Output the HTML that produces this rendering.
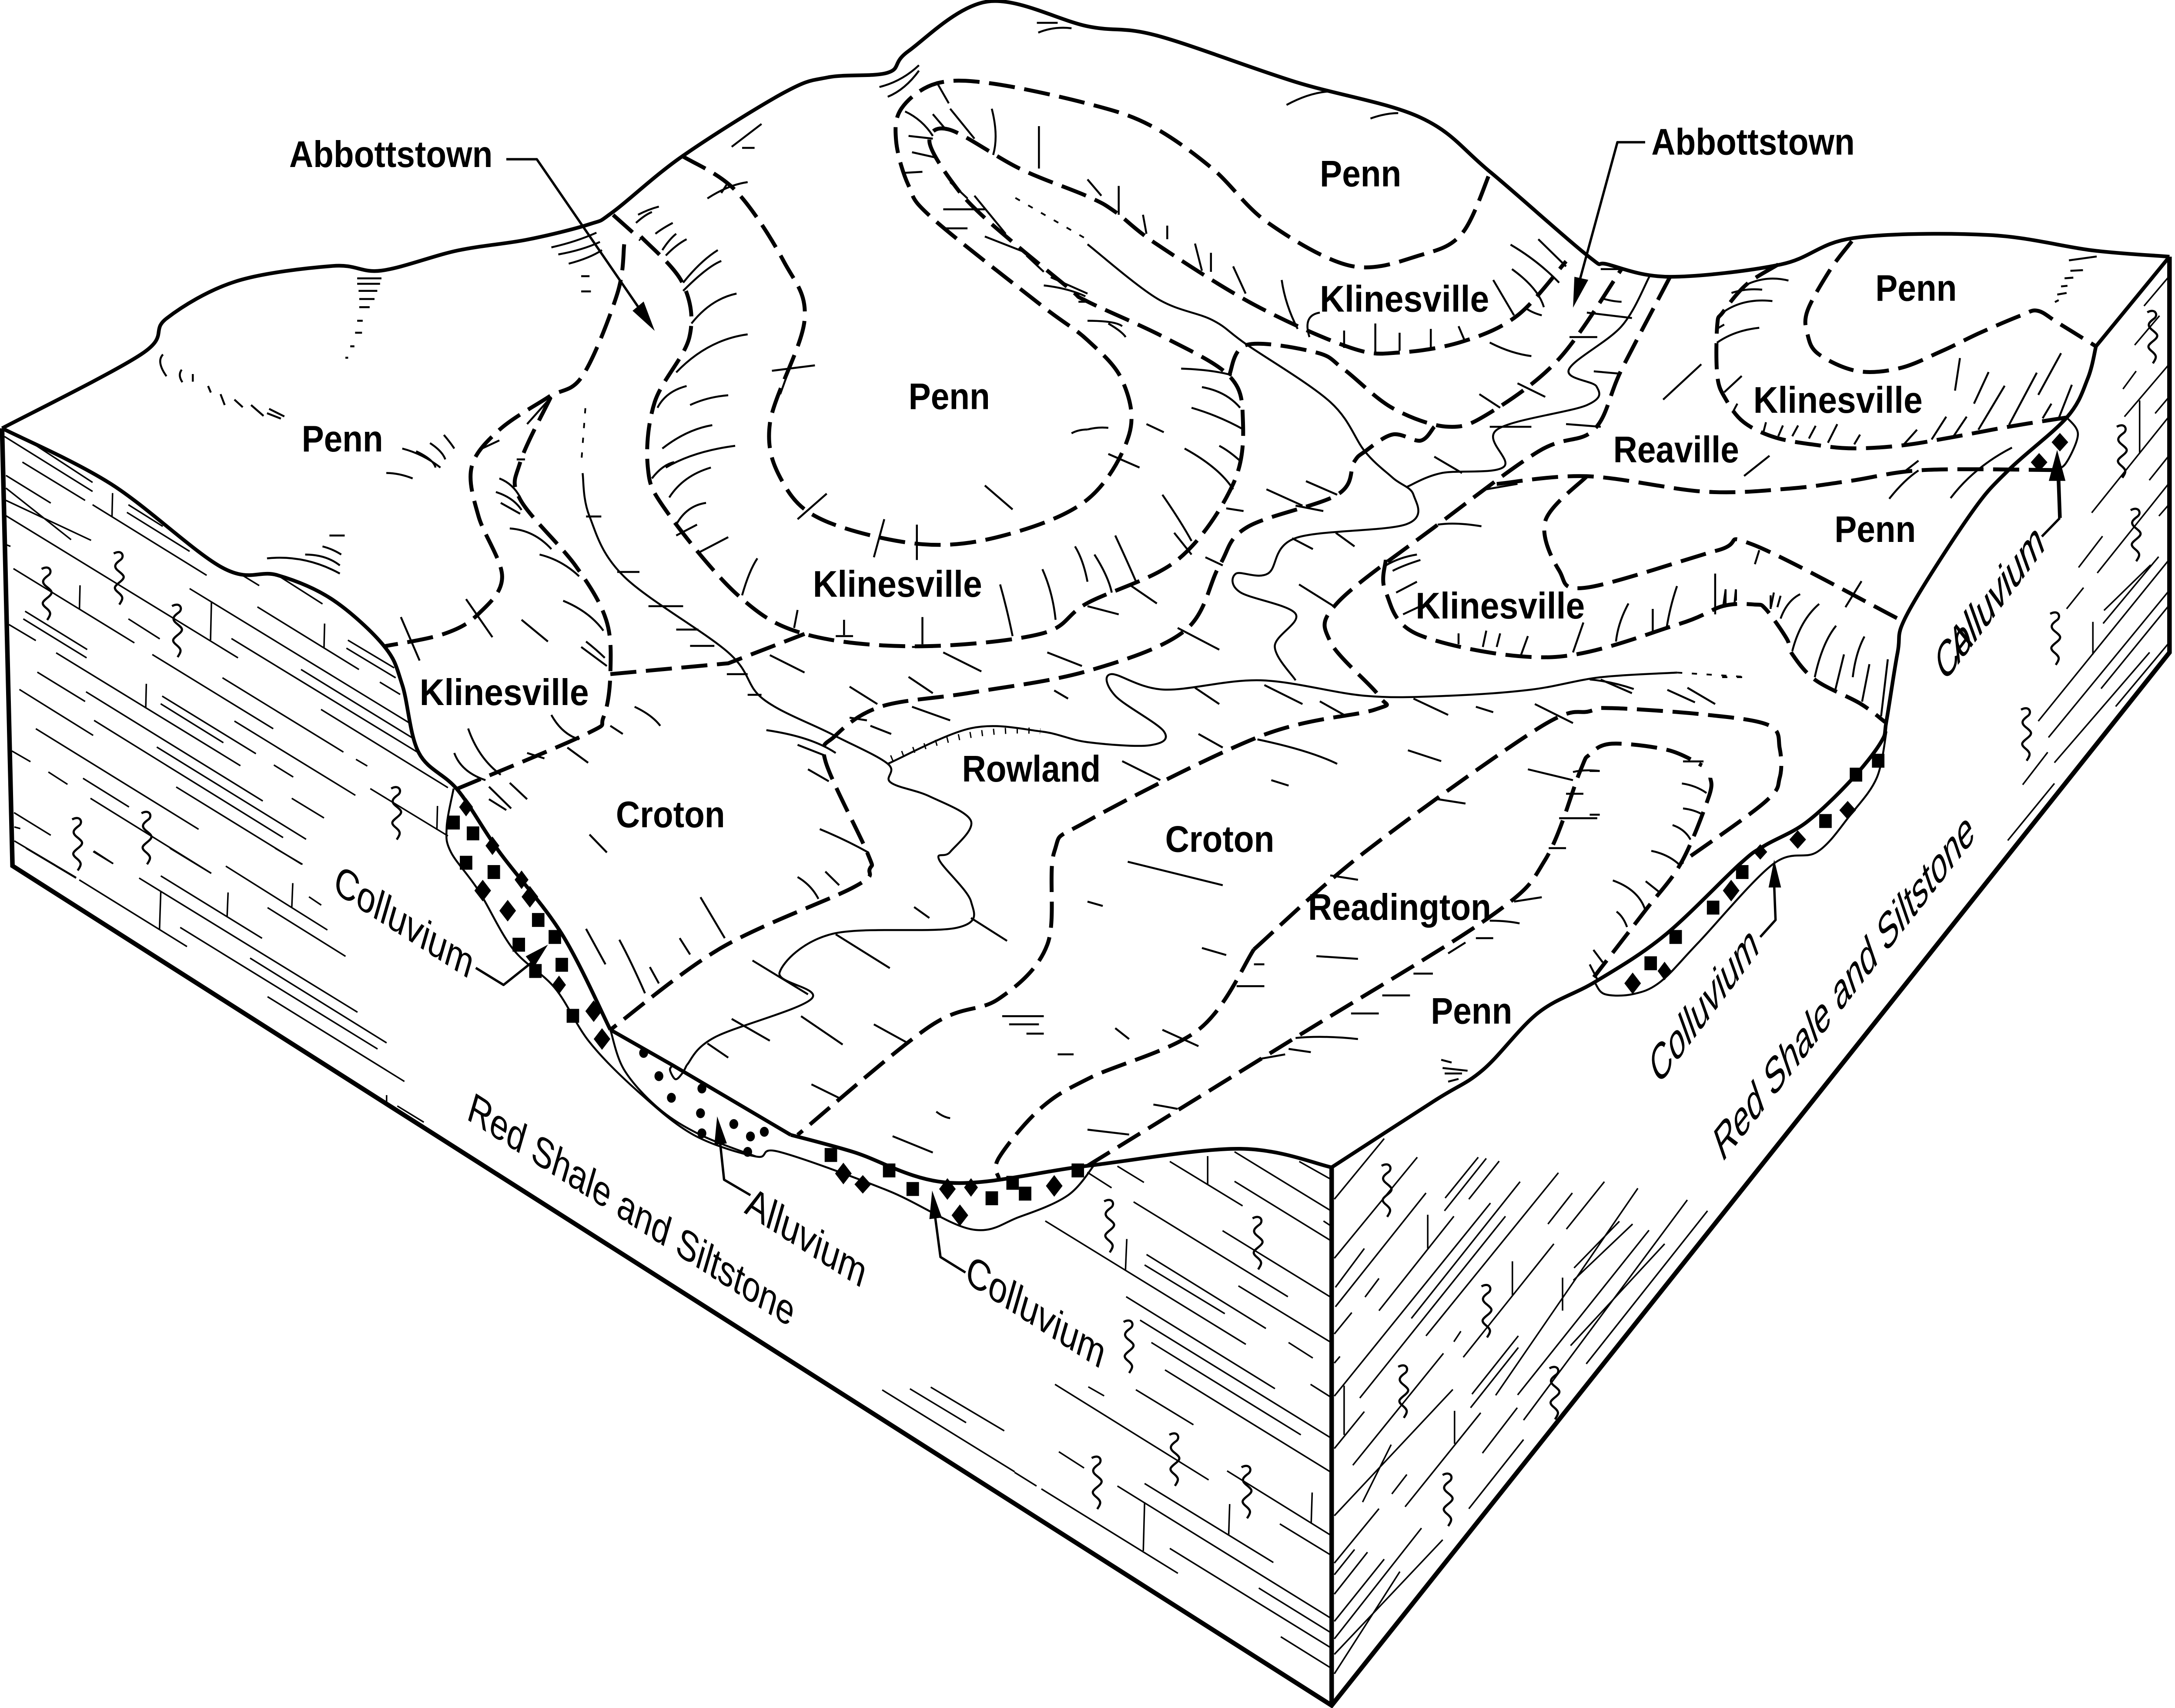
<!DOCTYPE html>
<html><head><meta charset="utf-8"><title>Block diagram</title>
<style>
html,body{margin:0;padding:0;background:#fff;width:100%;height:100%;overflow:hidden}
svg{display:block;position:absolute;left:0;top:0;width:100vw;height:100vh}
path{vector-effect:non-scaling-stroke;fill:none;stroke:#000;stroke-linecap:butt;stroke-linejoin:round}
.o{stroke-width:8.5}
.w{stroke-width:10.5;stroke-linejoin:miter}
.d{stroke-width:9;stroke-dasharray:60 22}
.r{stroke-width:4.5}
.k{stroke-width:4.5}
.l{stroke-width:3.5}
.a{stroke-width:5.5}
.h{stroke-width:14;stroke-dasharray:3 24}
.dot{stroke-width:4;stroke-dasharray:12 22}
.z{stroke-width:5}
polygon,rect,circle{fill:#000;stroke:none}
text{font-family:"Liberation Sans",sans-serif;font-size:24px;fill:#000}
.b{font-weight:700}
.n{font-size:26px}
</style></head><body>
<svg xmlns="http://www.w3.org/2000/svg" viewBox="0 0 5574 3927" preserveAspectRatio="none">
<defs><path id="q" class="z" d="M1 0C7-3 9 2 6 4S0 8 4 11S10 15 6 18S0 22 4 25S8 29 5 33"/></defs>

<!-- surface ticks crop 1 -->
<g transform="scale(1.7774,1.25)">
<path class="k" d="M515 512h35M515 522h33M517 535h27M518 550h22M518 565h15M515 590h8M512 612h10M505 637h6M498 658h4M795 455Q830 445 860 428M805 468Q840 460 865 445M820 485Q850 475 868 460M838 508h12M838 536h14M235 652Q225 665 240 692M262 680Q256 690 263 703M278 688v14M300 710l4 12M318 725l6 20M338 735l12 14M362 745l18 20M388 752l22 14M385 760l20 10M580 825Q610 835 635 860M600 830Q625 845 628 860M620 815Q638 830 642 845M640 800Q650 815 655 825M557 870Q575 870 595 880M385 1027Q440 1020 490 1055M440 1020Q470 1020 490 1040M465 1005Q480 1010 492 1020M475 985h22M1055 270L1098 228M1070 272h18M1495 42h30M1497 60Q1520 48 1545 52M1268 160Q1300 150 1325 120M1280 178Q1305 165 1325 130"/>
<path class="k" d="M920 395Q935 385 950 380M917 410Q930 395 940 390M945 430Q955 420 970 410M955 460Q965 440 975 430M960 470Q975 450 990 440M985 520Q1010 480 1035 460M985 535Q1020 490 1040 480M997 595Q1025 550 1062 540M975 685Q1020 625 1078 615M948 750Q960 720 990 710M995 745Q1020 730 1050 727M955 825Q990 790 1027 782M960 860Q1000 830 1060 820M940 880Q955 855 972 850M965 915Q985 875 1025 860M975 965Q990 930 1018 925M975 985L1005 965M1005 1018L1050 988M1070 1095Q1080 1050 1092 1027M1020 365Q1050 340 1078 335M1050 335L1040 355M1113 682L1175 672M1140 672L1125 725M1150 955L1192 908M1420 893L1460 937M1260 1025L1275 955M1322 1030V965M1545 797Q1555 790 1568 790M1145 1155L1150 1122M1217 1168V1140M1205 1170h25M1330 1185V1135M1315 1190h30M1460 1170Q1452 1120 1442 1075M1522 1140Q1518 1090 1503 1047M1568 1070Q1562 1030 1550 1005"/>
<path class="k" d="M695 825L720 810M720 880Q740 890 750 915M715 905Q740 915 752 938M722 925L750 945M735 972Q770 975 795 1010M778 1020Q810 1030 835 1060M812 1105Q850 1125 870 1160M845 1180Q860 1195 872 1210M838 1190L875 1225M672 1102L710 1172M752 1140L790 1180M578 1135L605 1215M795 1315Q810 1350 835 1360M675 1340Q690 1395 722 1425M655 1385Q665 1420 700 1435M760 1385L785 1395M705 1447L737 1487M760 780L795 730M745 845h12M845 950h22M890 1052h32M935 1115h50M975 1158h32M995 1188h35M1048 1240h30M1078 1278h20M1110 1205L1160 1237M1225 1263L1265 1295M1310 1245L1345 1275M1360 1200L1415 1235M1510 1200L1560 1225M1520 1270L1540 1285M1315 1300L1370 1325M1255 1335L1285 1350M1225 1320L1250 1325M915 1300Q940 1315 952 1335M880 1335L898 1350M818 1375L848 1403M1105 1343Q1170 1355 1205 1385M1150 1370L1190 1390M1165 1415L1195 1437M1182 1525Q1220 1545 1252 1568M850 1535L875 1568M705 1470L730 1490M735 1440L760 1470"/>
<path class="k" d="M1350 150L1368 190M1345 210L1365 240M1370 200L1405 255M1430 200Q1440 250 1432 285M1498 232V310M1305 205Q1330 220 1345 250M1310 250L1345 255M1315 280L1350 290M1303 318L1330 316M1370 335L1395 365M1360 385L1420 385M1405 360L1450 430M1360 420L1395 420M1420 435L1480 465M1480 470L1505 500M1505 525Q1540 530 1565 545M1515 510L1568 540M1555 555h13"/>
<path class="h" d="M1285 1395Q1400 1335 1500 1345"/>
</g>

<!-- surface ticks crop 2 -->
<g transform="translate(2787,0) scale(1.7774,1.25)">
<path class="k" d="M287 193Q320 170 350 168M408 218Q430 208 448 208M0 330L20 360M45 342V395M80 395L85 430M115 415V440M155 448L165 498M178 465V500M210 490L228 540M280 515Q285 560 303 605M335 575Q310 580 320 620M370 608V640M415 595V650M450 612V645M495 605V645M535 600L545 630M585 515L615 580M612 495Q650 530 658 565M610 450Q650 480 680 520M650 440L690 490M630 565Q640 575 655 580M740 495L770 495M745 550Q760 555 770 555M720 575L785 585M580 630Q610 650 640 655M695 620H735M730 683L765 687M620 705L660 730M565 725L595 750M690 780L740 785M580 785H640M500 840L540 870M0 790Q15 785 30 787M85 780L110 795M30 835L75 860M0 590Q40 590 50 600M30 595Q50 610 55 620M135 678Q180 680 208 690M165 712Q200 720 220 750M150 750Q190 765 225 790M190 820Q205 830 222 850M140 825Q190 860 210 900M108 910Q135 960 150 995M125 980L150 1020M40 985Q60 1040 70 1070M10 1020Q30 1060 35 1090M170 1025L195 1040M60 1075L100 1110M0 1115L45 1130M258 900L310 930M315 885L360 910M300 930L340 940M200 935L225 940M305 1075L355 1115M358 980L385 1005M295 990L325 1010M130 1155L190 1195M155 1265L190 1295M255 1260L310 1295M335 1290L370 1315M470 1285L520 1315M560 1300L585 1310M645 1295L700 1330M740 1250L785 1275M865 1265L905 1295M245 1360Q320 1380 360 1405M50 1400L105 1435M160 1350L195 1375M462 1380L510 1400M265 1435L290 1445M505 1470L545 1478M635 1415L700 1435M690 1460h25M700 1420Q715 1415 738 1418M680 1505h55M665 1560h25"/>
<path class="k" d="M830 735L885 670M430 1040Q450 1025 475 1020M440 1050Q455 1040 480 1030M445 1090L475 1070M455 1130L480 1115M505 965Q530 960 568 968M575 900L620 890M535 1165V1185M575 1160L570 1190M595 1165L590 1190M635 1170L625 1205M715 1145L700 1200M780 1110Q765 1145 762 1180M815 1120V1165M850 1078Q840 1115 835 1155M905 1055V1130M920 1085V1110M935 1085V1105M985 1095V1120"/>
</g>

<!-- surface ticks crop 3 -->
<g transform="translate(0,1960) scale(1.7774,1.2545)">
<path class="k" d="M1318 100L1340 120M1400 120L1452 162M1205 150L1283 212M1085 198L1165 260M1055 305L1110 345M1260 315L1310 350M1155 300L1215 352M1020 350L1050 376M1170 425L1210 450M1350 475Q1360 485 1370 487M1287 520L1345 550M1445 300H1505M1455 315H1498M1480 332H1505M1525 370H1548M1150 45Q1170 60 1180 85M1190 35L1210 60M1010 82L1045 157M845 140L873 205M893 160Q910 200 930 258M980 157L995 187M937 210L950 240"/>
<path class="l" d="M1272 985L1463 1135M1312 983L1393 1045M1342 980L1448 1060"/>
</g>

<!-- surface ticks crop 4 -->
<g transform="translate(2787,1960) scale(1.7774,1.2545)">
<path class="k" d="M58 17L195 60M0 90L22 98M350 42L390 50M615 90L655 82M580 125Q605 125 623 130M560 157L585 157M520 185L545 165M165 175L200 188M330 190L390 195M240 205H255M215 245H255M470 222H498M425 262H465M380 295H420M300 340Q340 335 390 342M250 378L285 370M290 360L322 366M40 322L60 342M108 325L160 355M95 462Q110 465 130 470M0 508L60 517M510 380L525 385M512 395L548 400M515 405L540 405M520 420L535 415"/>
</g>

<!-- left face, upper -->
<g transform="translate(0,950) scale(.7653)">
<path class="l" d="M15 70L310 235M100 85L310 208M75 147L285 262M20 187L170 270M20 225L238 380M20 262L305 382M20 308L797 735M310 275L692 487M430 275L545 340M425 298L635 415M635 527L1370 930M808 485L868 518M935 490L1080 573M862 582L1202 770M775 677L1410 1025M1008 770L1380 975M745 795L1150 1018M1075 890L1500 1125M1165 682L1320 765M1160 706L1325 795M1272 808L1340 845M30 635L120 683M45 467L450 690M430 618L535 678M510 725L915 948M84 595L292 710M78 618L290 735M188 720L805 1059M785 925L1190 1148M543 850L857 1023M538 873L748 990M125 778L285 866M65 830L312 968M288 837L880 1165M315 923L948 1275M525 1003L1025 1280M590 1123L1010 1355M120 948L665 1250M917 1057L982 1093M1192 1040L1230 1060M977 1157L1085 1216M1240 1128L1500 1270M40 1015L102 1047M162 1078L226 1115M278 1097L432 1183M303 1157L707 1382M47 1200L170 1268M48 1243L68 1248M48 1285L255 1395M312 1317L378 1353M20 395L35 400M377 240L375 312M268 517L266 590M708 568L705 682M1087 632L1085 705M490 813L488 887M1465 1180L1463 1252"/>
</g>
<!-- left face, lower -->
<g transform="translate(0,1950) scale(.8291)">
<path class="l" d="M80 0L235 83M245 88L578 273M290 8L350 43M525 0L653 70M850 0L935 45M698 50L1012 227M430 83L1105 455M497 77L810 250M827 165L1068 300M773 305L1195 540M557 220L1167 557M827 412L1250 647M955 135L993 158M1228 715L1310 760M497 120L493 227M705 123L702 190M905 97L902 163M1195 685V705"/>
</g>
<!-- centre faces -->
<g transform="translate(2600,2600) scale(.8291)">
<path class="l" d="M225 115L300 158M318 98L400 143M480 85L705 208M680 58L975 220M680 140L975 303M880 85L975 133M955 250L975 262M368 197L845 460M643 277L975 460M95 250L715 592M408 343L777 548M402 372L650 507M692 430L975 585M847 587L922 630M345 460L805 715M388 525L975 850M423 587L885 843M465 663L975 945M915 703L975 737M375 718L553 815M125 703L600 968M228 710L277 735M657 943L975 1120M137 890L215 935M0 947L68 985M83 993L505 1227M402 978L800 1197M318 985L975 1350M820 1090L975 1175M480 1158L975 1432M755 1268L975 1390M823 1403L975 1488M597 70V148M347 300L343 385M402 1030L398 1165M665 1035L662 1120M920 1003L917 1088"/>
</g>
<!-- right face -->
<g transform="translate(3400,2500) scale(.8929)">
<path class="l" d="M22 288L165 132M22 440L260 180M25 515L108 415M25 565L285 272M22 635L72 580M110 540L150 492M150 575L365 332M22 795L470 298M340 285L435 180M338 318L458 183M408 288L495 190M243 595L555 243M95 800L513 332M285 640L665 220M22 710L38 693M75 973L335 685M22 930L108 835M22 1103L362 778M365 655L385 628M392 695L652 403M635 352L705 272M688 365L797 243M710 465L840 345M708 497L878 352M103 1068L185 920M187 1047L230 997M225 1080L442 838M22 1225L150 1085M417 790L550 640M413 825L550 670M485 793L893 260M548 792L925 368M565 857L1035 290M700 665L970 403M745 712L1093 318M447 942L547 825M408 1085L565 907M22 1255L80 1190M22 1305L117 1197M22 1375L165 1215M22 1420L272 1135M22 1510L210 1247M22 1460L333 1165M290 328V415M533 448V535M677 490V575M50 768V895M367 833V918"/>
</g>
<g transform="translate(4400,550) scale(.7487)">
<path class="l" d="M1462 205L1547 115M1430 325L1515 235M1390 460L1435 405M1395 545L1547 385M1500 535L1547 485M1283 840L1547 545M1480 740L1547 665M1238 1008L1320 912M1302 1025L1547 750M1513 850L1547 815M1197 1135L1255 1070M1325 1140L1485 1000M1322 1180L1512 975M1315 1380L1547 1125M1100 1480L1547 985M1135 1530L1547 1080M1365 1435L1547 1240M1447 495V655M1287 1175V1275"/>
<path class="k" d="M1205 65L1300 53M1210 97L1253 95M1190 120L1220 118M1178 145L1200 143M1165 170L1197 165M1157 193L1170 187M815 465L832 365M880 505L930 408M810 605L855 545M895 585L985 450M1000 570L1095 410M1100 478L1178 350M1115 550L1145 505M1170 550L1215 447M735 615L785 545M640 630L685 585M380 625L412 568M470 630L490 600M315 612L338 573M258 605L278 572M210 605L226 572M160 590L168 562M25 470L85 420M55 530L70 505M20 225Q90 180 190 190M0 318Q60 280 145 272M50 165Q100 150 155 155M100 140Q170 110 245 127M0 275L25 262M93 727L180 665M590 797Q640 740 690 710M640 715L690 680M800 795Q880 700 1010 640M130 998L145 955M440 1130L495 1050M22 1125L30 1075M60 1120L65 1075M185 1130L195 1085M207 1130L218 1095M218 1165Q240 1110 285 1090M258 1265Q285 1170 350 1120M335 1345Q360 1240 408 1187M405 1385L435 1275M465 1345Q475 1270 505 1220M497 1420L522 1305M562 1465L585 1290"/>
<path class="dot" d="M18 1345H110"/>
</g>
<g transform="translate(4074,1500) scale(.9566)">
<path class="l" d="M1160 318L1227 240M1120 452L1245 315M1245 265L1500 0"/>
<path class="k" d="M0 285H27M0 390H27M0 65Q60 70 118 88M208 90L282 120M250 262H305M247 315Q285 320 313 338M250 375Q280 378 303 390M222 415Q255 425 270 450M165 477Q210 485 240 510M150 550L185 575M62 548Q130 570 148 617M72 623Q90 635 100 660M10 715L35 745M0 750L20 785"/>
</g>

<g transform="scale(3.5549)">
<!-- block outline -->
<path class="o s" d="M1.5 277 102 229 120 206 170 182 240 172 275 175 330 162 380 155 425 145 442 137 492 101 565 60 597 50 640 47 655 33 712 1 784 17 834 23 934 53 1024 76 1074 111 1144 165 1159 171 1204 179 1284 171 1336 154 1434 152 1509 162 1564 166"/>
<path class="w" d="M1.5 277 9 560 960 1103 1564 422V166"/>
<path class="w" d="M960 755V1103"/>
<path class="o s" d="M1.5 277 80 313 160 367 200 372 240 388 277 418 290 443 302 487 330 511 360 551 405 604 440 666"/>
<path class="o" d="M440 666 485 689 570 734"/>
<path class="o s" d="M570 734 615 745 685 765 784 754 894 743 960 755"/>
<path class="o s" d="M960 755 1034 712 1069 692 1109 655 1150 635 1200 605 1254 559 1272 547 1302 532 1334 505 1356 480 1360 466 1368 422 1375 397 1421 332 1448 304 1490 270 1505 245 1511 224"/>
<path class="o" d="M1511 224 1564 166"/>
<!-- lenses -->
<path class="r s" d="M327 510 322 535 325 551 345 576 370 614 400 639 425 674 460 706 500 734 545 748 562 745 640 770 700 795 735 787 770 773 790 752"/>
<path class="r s" d="M440 666 450 692 475 717 505 734 545 748"/>
<path class="r s" d="M1150 636 1157 643 1177 643 1197 635 1224 610 1278 559 1310 551 1334 527 1353 503 1360 473"/>
<path class="r s" d="M1490 270 1498 281 1489 300 1480 304"/>
<path class="r s" d="M485 689 483 692 487 698 492 694 495 689"/>

<!-- dashed soils -->
<path class="d" d="M442 139 462 155"/>
<path class="d s" d="M450 158 445 190 420 243 395 257 360 278 340 302 345 334 362 373 345 397 320 410 277 418"/>
<path class="d s" d="M462 153 492 183 497 218 472 260 467 302 480 330 532 385 580 410 660 418 750 410 784 390 849 362 889 313 896 271 886 243 839 218 784 195 770 186 710 141 685 116 670 91 685 84 735 109 784 127 804 137 834 158 904 197 974 225 1009 228 1054 221 1094 204 1129 169"/>
<path class="d s" d="M492 101 530 123 565 169 580 207 555 274 565 313 595 337 665 352 725 346 784 323 814 281 809 246 784 220 750 197 672 141 655 120 646 91 650 70 675 54 715 54 784 67 829 81 874 109 914 144 974 172 1024 165 1054 151 1074 112"/>
<path class="d s" d="M886 243 899 223 949 228 969 239 1004 264 1044 276 1074 267 1124 232 1169 174"/>
<path class="d s" d="M1034 276 1024 285 1004 281 984 292 976 299 964 320 899 341 879 366 854 408 784 434 700 448 635 457 602 476 595 492 625 551 627 562 615 574 520 613 440 666"/>
<path class="d s" d="M397 257 375 299 375 323 415 366 437 401 440 436 435 464 422 475 330 510"/>
<path class="d" d="M440 436 525 429 580 410"/>
<path class="d s" d="M1204 179 1169 239 1149 278 1109 292 1034 341 964 390 959 415 994 450 991 459 909 476 784 531 760 551 755 611 720 646 670 664 575 734"/>
<path class="d s" d="M1079 313 1144 308 1229 318 1290 316 1334 311 1387 304 1480 304"/>
<path class="d s" d="M1144 308 1114 337 1124 369 1144 380 1238 356 1263 352 1368 400"/>
<path class="d s" d="M999 362 999 383 1024 411 1119 425 1209 404 1242 392 1265 391 1273 394 1288 413 1292 423 1309 440 1341 455 1359 467"/>
<path class="d s" d="M1335 156 1319 175 1303 201 1303 216 1311 229 1339 240 1370 238 1400 227 1428 215 1457 204 1469 201 1484 209 1511 224"/>
<path class="d s" d="M1282 171 1259 184 1242 202 1238 210 1238 243 1244 258 1257 273 1280 283 1311 288 1337 290 1372 288 1406 283 1448 276 1490 270"/>
<path class="d s" d="M904 614 984 551 1109 471 1146 460 1162 458 1227 462 1275 469 1283 484 1283 503 1272 519 1212 558"/>
<path class="d s" d="M784 754 934 671 1074 593 1114 556 1139 499 1146 488 1162 481 1202 485 1227 495"/>
<path class="d s" d="M1233 503 1232 515 1212 558 1186 589 1149 632"/>
<path class="d s" d="M904 614 864 666 786 697 750 717 720 749 720 762"/>

<!-- streams -->
<path class="dot" d="M422 264 419 300"/>
<path class="r s" d="M420 306 425 334 450 373 525 422 550 452 600 475 640 494 642 506 670 515 700 531 685 551 677 556 700 583 690 600 600 604 562 629 585 646 515 671 495 689"/>
<path class="r s" d="M640 494 700 471 750 473 784 480 829 482 839 473 804 450 801 436 839 446 909 440 984 450 1044 450 1104 446 1154 438 1209 435"/>
<path class="dot" d="M1209 435 1262 438"/>
<path class="dot" d="M732 128 784 155"/>
<path class="r s" d="M784 158 834 193 874 207 899 223 959 260 984 292 1004 309 1019 320 1014 339 934 348 914 371 891 371 894 383 934 397 919 418 934 440"/>
<path class="r s" d="M1014 315 1039 306 1084 302 1079 278 1144 262 1151 250 1131 239 1169 211 1189 179"/>

<!-- squiggles -->
<g transform="translate(-4,0)">
<use href="#q" x="33" y="368"/><use href="#q" x="85" y="358"/><use href="#q" x="127" y="392"/><use href="#q" x="285" y="510"/><use href="#q" x="55" y="530"/><use href="#q" x="105" y="526"/>
<use href="#q" x="799" y="777"/><use href="#q" x="906" y="788"/><use href="#q" x="813" y="855"/><use href="#q" x="846" y="928"/><use href="#q" x="790" y="943"/><use href="#q" x="898" y="949"/>
<use href="#q" x="999" y="754"/><use href="#q" x="1071" y="832"/><use href="#q" x="1011" y="884"/><use href="#q" x="1120" y="885"/><use href="#q" x="1043" y="954"/>
<use href="#q" x="1551" y="202"/><use href="#q" x="1529" y="276"/><use href="#q" x="1539" y="330"/><use href="#q" x="1481" y="397"/><use href="#q" x="1460" y="459"/>
</g>

<!-- squares -->
<g transform="translate(-4.5,-4.5)">
<rect width="9" height="9" x="327" y="532"/><rect width="9" height="9" x="341" y="539"/><rect width="9" height="9" x="336" y="558"/><rect width="9" height="9" x="356" y="564"/><rect width="9" height="9" x="388" y="595"/><rect width="9" height="9" x="374" y="611"/><rect width="9" height="9" x="400" y="606"/><rect width="9" height="9" x="405" y="624"/><rect width="9" height="9" x="386" y="628"/><rect width="9" height="9" x="413" y="657"/>
<rect width="9" height="9" x="599" y="747"/><rect width="9" height="9" x="641" y="757"/><rect width="9" height="9" x="658" y="769"/><rect width="9" height="9" x="715" y="775"/><rect width="9" height="9" x="730" y="765"/><rect width="9" height="9" x="739" y="772"/><rect width="9" height="9" x="777" y="757"/>
<rect width="9" height="9" x="1256" y="564"/><rect width="9" height="9" x="1235" y="587"/><rect width="9" height="9" x="1208" y="606"/><rect width="9" height="9" x="1190" y="623"/><rect width="9" height="9" x="1316" y="531"/><rect width="9" height="9" x="1338" y="501"/><rect width="9" height="9" x="1354" y="492"/>
</g>
<!-- diamonds -->
<polygon points="336,516 341,522 336,528 331,522"/><polygon points="355,541 360,547 355,553 350,547"/><polygon points="348,569 354,576 348,583 342,576"/><polygon points="366,582 372,589 366,596 360,589"/><polygon points="382,573 388,580 382,587 376,580"/><polygon points="376,563 381,569 376,575 371,569"/><polygon points="403,631 408,637 403,643 398,637"/><polygon points="428,647 434,654 428,661 422,654"/><polygon points="434,665 440,672 434,679 428,672"/>
<polygon points="608,752 614,759 608,766 602,759"/><polygon points="622,760 628,766 622,772 616,766"/><polygon points="683,762 689,769 683,776 677,769"/><polygon points="692,779 698,786 692,793 686,786"/><polygon points="700,762 705,768 700,774 695,768"/><polygon points="760,760 766,767 760,774 754,767"/>
<polygon points="1248,569 1254,576 1248,583 1242,576"/><polygon points="1177,629 1183,636 1177,643 1171,636"/><polygon points="1200,622 1205,628 1200,634 1195,628"/><polygon points="1332,518 1338,524 1332,530 1326,524"/><polygon points="1296,537 1302,543 1296,549 1290,543"/><polygon points="1269,546 1274,551 1269,556 1264,551"/><polygon points="1485,280 1491,286 1485,292 1479,286"/><polygon points="1470,293 1476,299 1470,305 1464,299"/>
<!-- dots -->
<circle cx="464" cy="681" r="3.2"/><circle cx="475" cy="696" r="3.2"/><circle cx="484" cy="710" r="3.2"/><circle cx="505" cy="720" r="3.2"/><circle cx="506" cy="704" r="3.2"/><circle cx="506" cy="733" r="3.2"/><circle cx="529" cy="727" r="3.2"/><circle cx="541" cy="735" r="3.2"/><circle cx="551" cy="732" r="3.2"/><circle cx="539" cy="745" r="3.2"/>

<!-- leaders -->
<path class="a" d="M365 103H387L462 201"/><polygon points="472,214 464,195 456,201"/>
<path class="a" d="M1186 92H1166L1138 184"/><polygon points="1134,199 1145,181 1135,179"/>
<path class="a" d="M343 626 363 637 384 622"/><polygon points="395,611 385,625.5 379,618.5"/>
<path class="a" d="M541 773 522 763 519 738"/><polygon points="517,722 524,739.5 515,740.5"/>
<path class="a" d="M696 823 678 813 674 786"/><polygon points="672,770 679,787.5 670,788.5"/>
<path class="a" d="M1269 606 1280 595 1279 572"/><polygon points="1279,556 1284,574 1275,574"/>
<path class="a" d="M1472 347 1485 335"/><path class="o" d="M1485 335 1484 310"/><polygon points="1483,291 1477,311 1489,311"/>

<!-- bold labels -->
<text class="b" x="208.5" y="108">Abbottstown</text>
<text class="b" x="1190.5" y="100">Abbottstown</text>
<text class="b" x="217.5" y="292">Penn</text>
<text class="b" x="655" y="264.5">Penn</text>
<text class="b" x="951.5" y="120.5">Penn</text>
<text class="b" x="1352" y="194.5">Penn</text>
<text class="b" x="1322.5" y="350.5">Penn</text>
<text class="b" x="1031.5" y="662">Penn</text>
<text class="b" x="302.5" y="456" textLength="122" lengthAdjust="spacingAndGlyphs">Klinesville</text>
<text class="b" x="586" y="386" textLength="122" lengthAdjust="spacingAndGlyphs">Klinesville</text>
<text class="b" x="951.5" y="201.5" textLength="122" lengthAdjust="spacingAndGlyphs">Klinesville</text>
<text class="b" x="1264" y="267" textLength="122" lengthAdjust="spacingAndGlyphs">Klinesville</text>
<text class="b" x="1020.5" y="400" textLength="122" lengthAdjust="spacingAndGlyphs">Klinesville</text>
<text class="b" x="444" y="535">Croton</text>
<text class="b" x="840" y="551">Croton</text>
<text class="b" x="693.5" y="505.5">Rowland</text>
<text class="b" x="1163" y="299">Reaville</text>
<text class="b" x="943" y="595">Readington</text>

<!-- oblique labels -->
<text class="n" text-anchor="middle" transform="translate(288.6,604.7) rotate(30) skewX(12)">Colluvium</text>
<text class="n" text-anchor="middle" transform="translate(452.6,791) rotate(30) skewX(12)" textLength="270" lengthAdjust="spacingAndGlyphs">Red Shale and Siltstone</text>
<text class="n" text-anchor="middle" transform="translate(578.6,808.7) rotate(30) skewX(12)">Alluvium</text>
<text class="n" text-anchor="middle" transform="translate(744,857) rotate(30) skewX(12)">Colluvium</text>
<text class="n" text-anchor="middle" transform="translate(1232,659) rotate(-50) skewX(-28)">Colluvium</text>
<text class="n" text-anchor="middle" transform="translate(1333,647) rotate(-49) skewX(-28)">Red Shale and Siltstone</text>
<text class="n" text-anchor="middle" transform="translate(1438,398.5) rotate(-50) skewX(-28)">Colluvium</text>
<text class="n" text-anchor="middle" transform="translate(1443,392.5) rotate(-50) skewX(-28)">Alluvium</text>
</g>
</svg>
<script>
document.querySelectorAll('path.s').forEach(function(p){
 var n=p.getAttribute('d').match(/-?[\d.]+/g).map(Number),a=[];
 for(var i=0;i<n.length;i+=2)a.push([n[i],n[i+1]]);
 if(a.length<3)return;
 var d='M'+a[0][0]+' '+a[0][1];
 for(var i=0;i<a.length-1;i++){
  var p0=a[i-1]||a[i],p1=a[i],p2=a[i+1],p3=a[i+2]||p2;
  d+='C'+(p1[0]+(p2[0]-p0[0])/6).toFixed(1)+' '+(p1[1]+(p2[1]-p0[1])/6).toFixed(1)+' '+(p2[0]-(p3[0]-p1[0])/6).toFixed(1)+' '+(p2[1]-(p3[1]-p1[1])/6).toFixed(1)+' '+p2[0]+' '+p2[1];
 }
 p.setAttribute('d',d);
});
</script>
</body></html>
